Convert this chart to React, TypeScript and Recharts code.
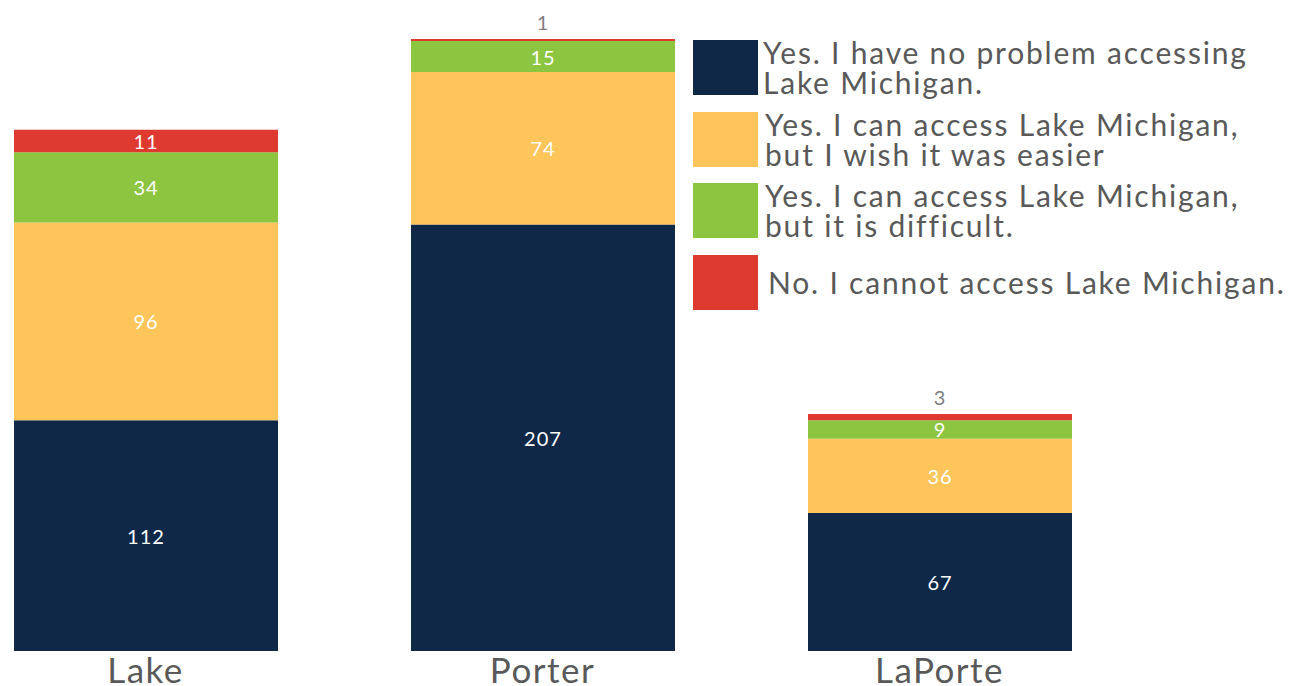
import React from 'react';
import { BarChart, Bar, XAxis, YAxis, LabelList } from 'recharts';

const counties = ['Lake', 'Porter', 'LaPorte'];
const noProblem = [112, 207, 67];
const wishEasier = [96, 74, 36];
const difficult = [34, 15, 9];
const cannot = [11, 1, 3];

const seriesNames = [
  'Yes. I have no problem accessing Lake Michigan.',
  'Yes. I can access Lake Michigan, but I wish it was easier',
  'Yes. I can access Lake Michigan, but it is difficult.',
  'No. I cannot access Lake Michigan.',
];
const legendLines = [
  ['Yes. I have no problem accessing', 'Lake Michigan.'],
  ['Yes. I can access Lake Michigan,', 'but I wish it was easier'],
  ['Yes. I can access Lake Michigan,', 'but it is difficult.'],
  ['No. I cannot access Lake Michigan.'],
];
const colors = ['#0F2848', '#FEC55A', '#8CC540', '#DE3A30'];

const data = counties.map((name, i) => ({
  name,
  noProblem: noProblem[i],
  wishEasier: wishEasier[i],
  difficult: difficult[i],
  cannot: cannot[i],
}));

const FONT = 'Lato, "Open Sans", sans-serif';

const renderLabel = (props: any) => {
  const { x, y, width, height, value } = props;
  const cx = Number(x) + Number(width) / 2;
  if (Number(height) < 12) {
    return (
      <text x={cx} y={Number(y) - 9} textAnchor="middle" fill="#7F7F7F" fontSize={20} letterSpacing={1} fontFamily={FONT}>
        {value}
      </text>
    );
  }
  return (
    <text
      x={cx}
      y={Number(y) + Number(height) / 2}
      textAnchor="middle"
      dominantBaseline="central"
      fill="#FFFFFF"
      fontSize={20}
      letterSpacing={1}
      fontFamily={FONT}
    >
      {value}
    </text>
  );
};

const CountyTick = (props: any) => {
  const { x, y, payload } = props;
  return (
    <text x={x} y={y + 24} textAnchor="middle" fill="#595959" fontSize={35} letterSpacing={1.5} fontFamily={FONT}>
      {payload.value}
    </text>
  );
};

const legendTops = [40, 112, 183, 255];
const legendTextLeft = [763, 765, 765, 768];

export default function App() {
  const keys = ['noProblem', 'wishEasier', 'difficult', 'cannot'];
  return (
    <div
      style={{
        position: 'fixed',
        left: 0,
        top: 0,
        width: 1296,
        height: 686,
        overflow: 'hidden',
        background: '#fff',
        fontFamily: FONT,
      }}
    >
      <div style={{ position: 'absolute', left: -61, top: 0 }}>
        <BarChart
          width={1199}
          height={686}
          data={data}
          margin={{ top: 39, right: 0, bottom: 0, left: 8 }}
        >
          <XAxis
            dataKey="name"
            axisLine={false}
            tickLine={false}
            height={35}
            interval={0}
            tick={<CountyTick />}
          />
          <YAxis hide domain={[0, 297]} />
          {keys.map((k, i) => (
            <Bar
              key={k}
              dataKey={k}
              name={seriesNames[i]}
              stackId="a"
              fill={colors[i]}
              barSize={264}
              isAnimationActive={false}
            >
              <LabelList dataKey={k} content={renderLabel} />
            </Bar>
          ))}
        </BarChart>
      </div>
      {legendLines.map((lines, i) => (
        <div key={i}>
          <div
            style={{
              position: 'absolute',
              left: 693,
              top: legendTops[i],
              width: 65,
              height: 55,
              background: colors[i],
            }}
          />
          <div
            style={{
              position: 'absolute',
              left: legendTextLeft[i],
              top: legendTops[i] - 6,
              height: 65,
              display: 'flex',
              flexDirection: 'column',
              justifyContent: 'center',
              color: '#595959',
              fontSize: 30,
              letterSpacing: 1.8,
              lineHeight: '30px',
              whiteSpace: 'nowrap',
            }}
          >
            {lines.map((l, j) => (
              <div key={j}>{l}</div>
            ))}
          </div>
        </div>
      ))}
    </div>
  );
}
